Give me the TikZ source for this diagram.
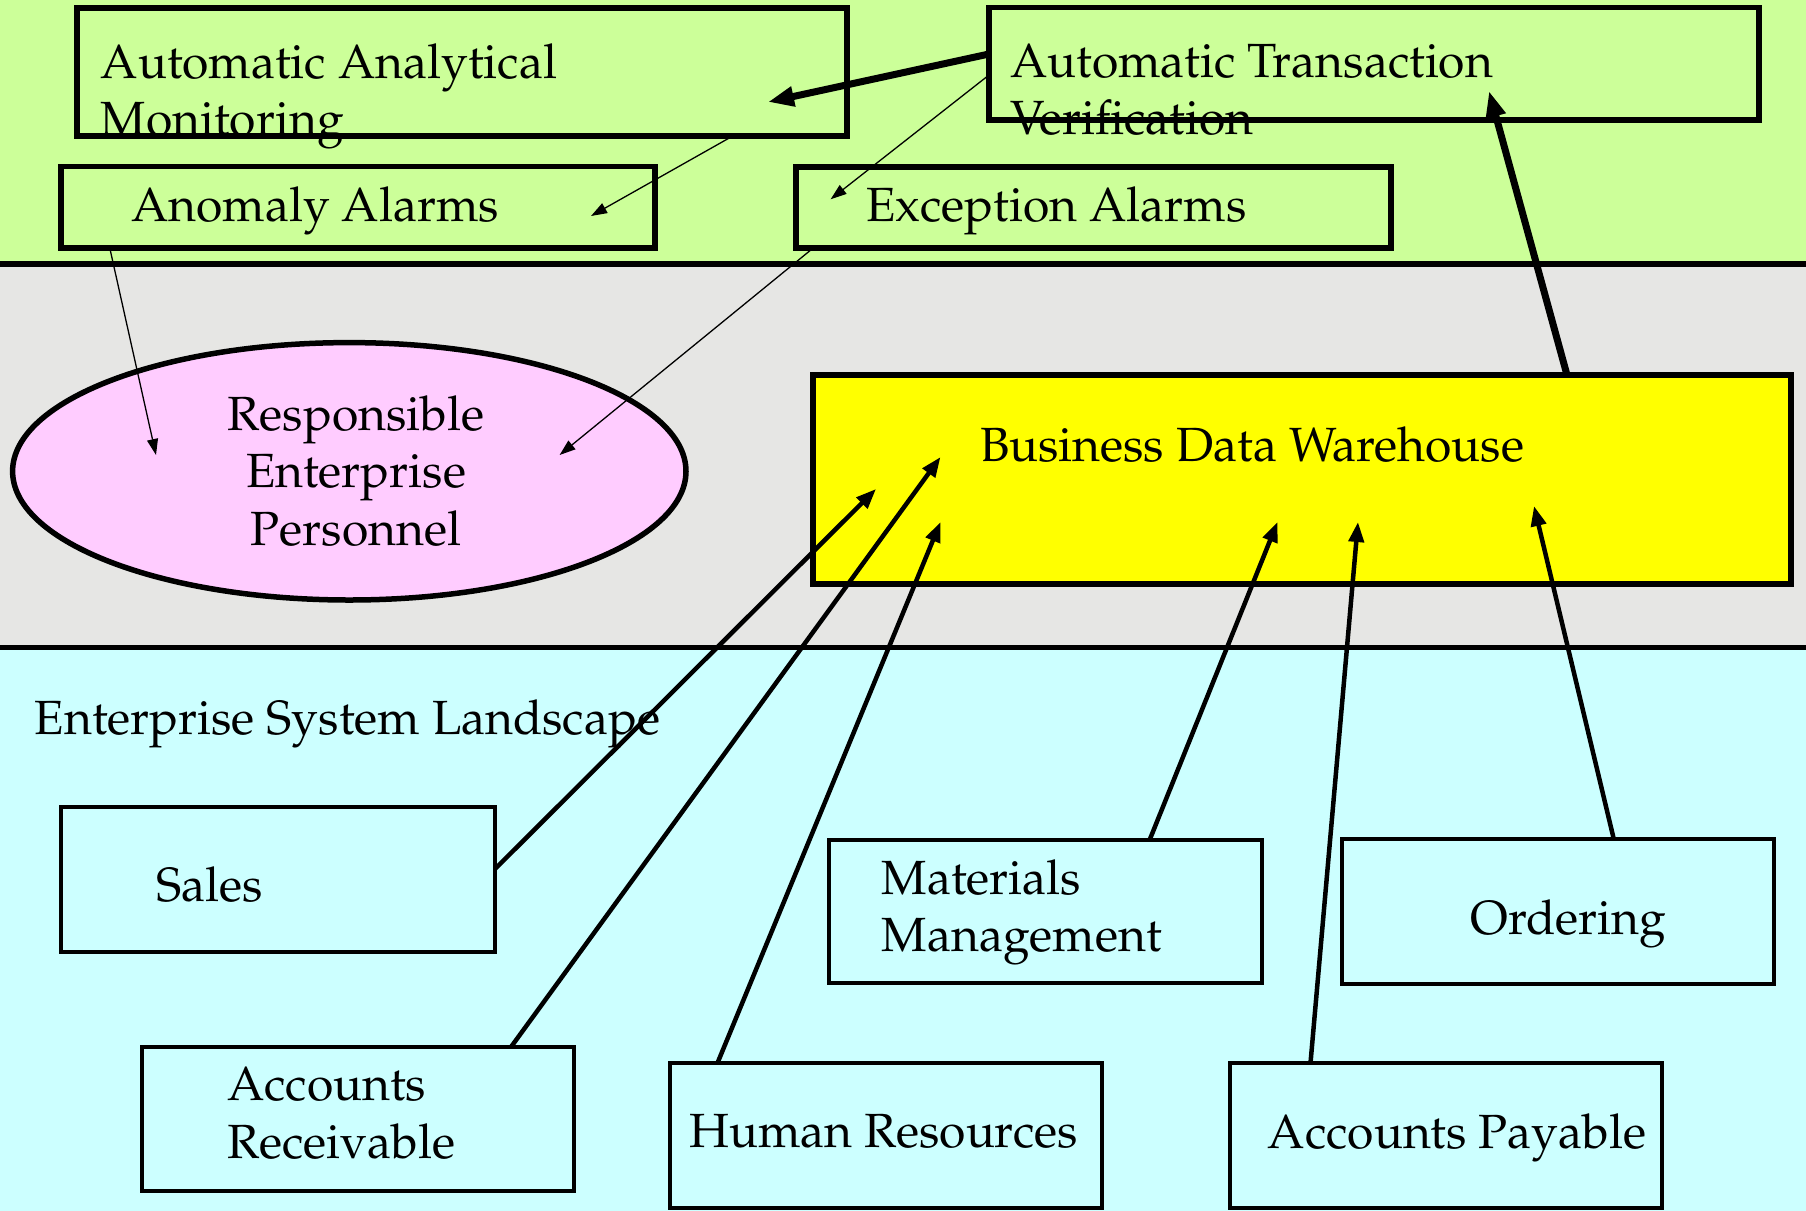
\documentclass[tikz,border=0pt]{standalone}
\usepackage[T1]{fontenc}
\usepackage{mathpazo}
\usetikzlibrary{shapes.geometric,arrows.meta}

\definecolor{bandgreen}{HTML}{CCFF99}
\definecolor{bandgray}{HTML}{E6E6E4}
\definecolor{bandcyan}{HTML}{CCFFFF}
\definecolor{pinkfill}{HTML}{FFCCFF}
\definecolor{warehouse}{HTML}{FFFF00}

\tikzset{
  box/.style={draw=black, rectangle, inner sep=0pt},
  upperbox/.style={box, line width=2.75pt, fill=bandgreen},
  lowerbox/.style={box, line width=2pt, fill=bandcyan},
  lbl/.style={anchor=base west, inner sep=0pt, align=left,
    font=\fontsize{24}{28.75}\selectfont},
  thinarrow/.style={-{Triangle[length=8pt,width=5.5pt]}, line width=0.65pt},
  thickarrow/.style={-{Triangle[length=13pt,width=9.5pt]}, line width=3.5pt},
  feedarrow/.style={-{Triangle[length=10pt,width=7.5pt]}, line width=2.25pt},
}

\begin{document}
\begin{tikzpicture}[x=0.5pt,y=-0.5pt]
\useasboundingbox (0,0) rectangle (1806,1211);

% three horizontal layers
\fill[bandgreen] (0,0) rectangle (1806,264);
\fill[bandgray] (0,264) rectangle (1806,647.5);
\fill[bandcyan] (0,647.5) rectangle (1806,1211);
\draw[line width=2.75pt] (0,264) -- (1806,264);
\draw[line width=2.75pt] (0,647.5) -- (1806,647.5);

% monitoring layer
\node[upperbox, minimum width=385pt, minimum height=64pt] (aam) at (462,72) {};
\node[upperbox, minimum width=385pt, minimum height=56.25pt] (atv) at (1374,63.75) {};
\node[upperbox, minimum width=297pt, minimum height=40.75pt] (anom) at (358,207.25) {};
\node[upperbox, minimum width=297.5pt, minimum height=40.5pt] (exc) at (1093.5,207.5) {};

% personnel and warehouse layer
\node[ellipse, draw=black, line width=2.75pt, fill=pinkfill, inner sep=0pt,
  minimum width=336.7pt, minimum height=128.7pt] (rep) at (349.3,471.3) {};
\node[box, line width=2.75pt, fill=warehouse, minimum width=489pt,
  minimum height=104.5pt] (bdw) at (1302,479.5) {};

% enterprise systems
\node[lowerbox, minimum width=216.7pt, minimum height=72.5pt] (sales) at (278.1,879.5) {};
\node[lowerbox, minimum width=216.1pt, minimum height=72.25pt] (ar) at (357.9,1118.75) {};
\node[lowerbox, minimum width=216.25pt, minimum height=72.5pt] (hr) at (885.75,1135) {};
\node[lowerbox, minimum width=216.6pt, minimum height=71.9pt] (mm) at (1045.6,911.4) {};
\node[lowerbox, minimum width=216pt, minimum height=72.5pt] (ord) at (1557.5,911.8) {};
\node[lowerbox, minimum width=216pt, minimum height=72.5pt] (ap) at (1446,1135.5) {};

% labels (multi-line labels are placed by the baseline of their last line)
\node[lbl] (aamtext) at (100.4,135.5) {Automatic Analytical\\Monitoring};
\node[lbl] (atvtext) at (1009.8,134.8) {Automatic Transaction\\Verification};
\node[lbl] (anomtext) at (130.9,221.7) {Anomaly Alarms};
\node[lbl] (exctext) at (866,221.5) {Exception Alarms};
\node[lbl, anchor=base, align=center] (reptext) at (356,545)
  {Responsible\\Enterprise\\Personnel};
\node[lbl] (bdwtext) at (979.6,461.7) {Business Data Warehouse};
\node[lbl] (esltext) at (34.4,734) {Enterprise System Landscape};
\node[lbl] (salestext) at (156,901) {Sales};
\node[lbl] (artext) at (226.7,1158) {Accounts\\Receivable};
\node[lbl] (hrtext) at (688.8,1147.5) {Human Resources};
\node[lbl] (mmtext) at (881.4,951.5) {Materials\\Management};
\node[lbl] (ordtext) at (1470,934) {Ordering};
\node[lbl] (aptext) at (1267.5,1148) {Accounts Payable};

% connector end points
\coordinate (atv-out-aam) at (989,54);
\coordinate (aam-in) at (768,102);
\coordinate (atv-out-exc) at (989,75);
\coordinate (exc-in) at (830.6,199.3);
\coordinate (aam-out) at (731,137);
\coordinate (anom-in) at (591,216);
\coordinate (anom-out) at (110,249);
\coordinate (rep-in-left) at (156,455);
\coordinate (exc-out) at (812,249);
\coordinate (rep-in-right) at (559.6,455);
\coordinate (bdw-out) at (1567,375);
\coordinate (atv-in) at (1489,91);
\coordinate (sales-out) at (495,869);
\coordinate (bdw-in-sales) at (876,489);
\coordinate (ar-out) at (511,1047);
\coordinate (bdw-in-ar) at (940.5,457);
\coordinate (hr-out) at (717.5,1063);
\coordinate (bdw-in-hr) at (940.5,522);
\coordinate (mm-out) at (1149.6,840);
\coordinate (bdw-in-mm) at (1277.5,522);
\coordinate (ap-out) at (1310.5,1063);
\coordinate (bdw-in-ap) at (1358,522);
\coordinate (ord-out) at (1614,840);
\coordinate (bdw-in-ord) at (1534,506);

% connectors
\draw[thickarrow] (atv-out-aam) -- (aam-in);
\draw[thinarrow] (atv-out-exc) -- (exc-in);
\draw[thinarrow] (aam-out) -- (anom-in);
\draw[thinarrow] (anom-out) -- (rep-in-left);
\draw[thinarrow] (exc-out) -- (rep-in-right);
\draw[thickarrow] (bdw-out) -- (atv-in);
\draw[feedarrow] (sales-out) -- (bdw-in-sales);
\draw[feedarrow] (ar-out) -- (bdw-in-ar);
\draw[feedarrow] (hr-out) -- (bdw-in-hr);
\draw[feedarrow] (mm-out) -- (bdw-in-mm);
\draw[feedarrow] (ap-out) -- (bdw-in-ap);
\draw[feedarrow] (ord-out) -- (bdw-in-ord);
\end{tikzpicture}
\end{document}
